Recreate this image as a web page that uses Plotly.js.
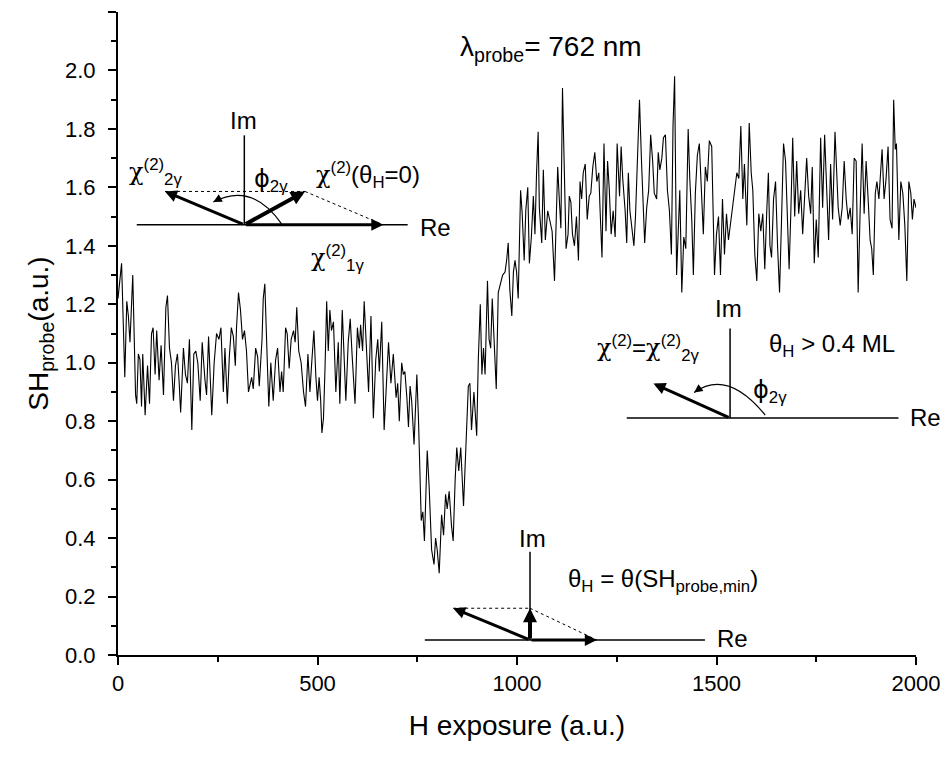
<!DOCTYPE html>
<html>
<head>
<meta charset="utf-8">
<script src="https://cdn.plot.ly/plotly-3.0.1.min.js"></script>
<style>html,body{margin:0;padding:0;background:#fff;}#chart{width:948px;height:759px;}</style>
</head>
<body>
<div id="chart"></div>
<script>
// H exposure (a.u.) values
const exposure = [
0,9,17,22,26,30,37,44,47,51,55,59,62,68,74,79,84,88,93,97,103,108,114,120,124,129,134,139,144,149,153,157,164,169,174,179,185,190,195,200,206,211,218,222,227,235,241,247,253,258,264,268,274,279,284,289,294,297,302,307,312,317,322,327,335,339,345,350,354,361,364,368,374,378,383,389,395,400,406,410,414,420,424,429,434,440,444,448,453,459,465,470,476,481,485,
491,496,500,504,508,511,515,519,523,527,531,535,540,546,552,556,562,567,571,577,582,587,594,600,605,608,613,617,622,628,634,640,646,651,655,661,667,674,678,684,690,697,701,705,711,715,719,724,728,732,736,742,749,753,760,764,768,775,780,786,792,796,800,805,811,816,821,825,830,836,840,845,849,854,859,866,872,878,882,886,892,899,903,908,912,916,920,926,930,934,938,943,948,953,
964,970,974,978,982,987,991,995,999,1003,1009,1013,1018,1022,1027,1031,1036,1041,1045,1049,1053,1056,1062,1066,1071,1077,1083,1088,1094,1098,1102,1106,1110,1114,1119,1123,1128,1131,1135,1139,1144,1149,1154,1158,1162,1166,1171,1176,1181,1185,1190,1195,1200,1205,1208,1213,1218,1223,1227,1231,1236,1241,1246,1251,1257,1261,1265,1271,1275,1279,1283,1288,1293,1297,1302,1307,1312,1317,1320,1325,1330,1335,1340,1344,1350,1354,1358,1363,1367,1372,1377,1382,1387,1391,1395,1400,1404,1408,1413,1418,1423,1429,1433,1438,1442,1447,1452,1457,
1467,1472,1477,1482,1488,1492,1495,1500,1505,1510,1515,1520,1525,1530,1536,1541,1546,1551,1556,1561,1566,1570,1576,1582,1587,1591,1596,1601,1606,1611,1616,1621,1626,1630,1634,1638,1643,1648,1653,1658,1663,1668,1673,1678,1682,1686,1691,1696,1701,1706,1711,1716,1721,1726,1731,1736,1740,1745,1750,1755,1761,1766,1771,1776,1781,1786,1791,1797,1801,1805,1810,1815,1820,1825,1830,1835,1840,1845,1850,1855,1860,1865,1870,1875,1880,1885,1889,1893,1898,1902,1907,1911,1915,1920,1925,1930,1935,1940,1944,1948,1951,1957,1962,1967,1972,1977,1982,1987,1991,1995,2000
];
// SH_probe (a.u.) values
const shProbe = [
1.22,1.34,0.95,1.21,1.16,1.07,1.30,0.89,0.86,1.03,1.01,0.85,1.03,0.82,0.99,0.86,1.10,1.12,0.96,1.11,0.94,1.06,0.89,1.19,1.23,1.05,1.00,0.87,0.99,1.03,0.94,0.83,1.05,0.96,0.93,1.08,0.77,1.03,1.04,1.00,0.87,1.07,0.94,0.89,1.09,0.82,1.00,1.10,1.08,1.12,0.90,1.05,0.86,1.02,1.12,1.09,0.99,1.12,1.24,1.18,1.08,1.11,1.04,0.90,0.95,0.91,1.05,1.02,0.92,1.08,1.22,1.27,1.01,0.85,1.00,0.87,1.01,1.05,0.90,0.97,0.90,1.12,1.10,0.98,1.08,1.11,1.07,1.19,1.04,1.00,0.90,0.85,1.03,0.90,0.99,
1.11,0.95,0.87,0.95,0.87,0.76,0.81,0.99,1.21,1.04,1.18,1.11,1.14,0.90,1.07,0.86,1.18,1.01,0.87,1.07,1.15,1.02,0.86,1.12,1.05,1.13,1.04,1.21,1.08,0.90,1.16,0.81,1.01,1.08,0.97,1.14,0.77,0.96,1.07,0.93,1.03,0.88,0.93,0.80,1.00,0.96,0.97,0.88,0.78,0.92,0.87,0.72,0.96,0.81,0.46,0.49,0.39,0.70,0.57,0.36,0.31,0.40,0.36,0.28,0.48,0.41,0.55,0.50,0.56,0.44,0.39,0.60,0.71,0.63,0.71,0.51,0.71,0.92,0.93,0.77,0.90,0.75,1.01,1.20,0.96,1.05,0.96,1.28,1.08,1.05,1.22,1.06,0.91,1.24,
1.30,1.31,1.35,1.41,1.25,1.16,1.31,1.35,1.31,1.22,1.59,1.51,1.35,1.52,1.60,1.34,1.43,1.57,1.44,1.65,1.79,1.53,1.41,1.66,1.42,1.52,1.48,1.45,1.28,1.49,1.67,1.56,1.46,1.94,1.56,1.39,1.44,1.57,1.55,1.44,1.40,1.50,1.35,1.62,1.56,1.65,1.68,1.49,1.57,1.58,1.67,1.72,1.62,1.65,1.53,1.36,1.75,1.45,1.69,1.60,1.44,1.52,1.43,1.75,1.57,1.74,1.63,1.52,1.41,1.65,1.52,1.45,1.40,1.50,1.70,1.90,1.69,1.52,1.41,1.53,1.59,1.78,1.69,1.58,1.56,1.72,1.66,1.70,1.77,1.78,1.59,1.52,1.37,1.81,1.98,1.30,1.42,1.59,1.24,1.43,1.39,1.80,1.63,1.49,1.30,1.58,1.71,1.75,
1.44,1.67,1.62,1.76,1.74,1.54,1.30,1.44,1.50,1.30,1.56,1.37,1.51,1.42,1.49,1.54,1.59,1.65,1.63,1.81,1.56,1.68,1.47,1.82,1.65,1.59,1.37,1.28,1.51,1.45,1.51,1.32,1.52,1.65,1.40,1.36,1.56,1.62,1.40,1.24,1.49,1.75,1.69,1.47,1.32,1.50,1.77,1.50,1.69,1.51,1.59,1.44,1.59,1.70,1.57,1.51,1.67,1.34,1.49,1.36,1.77,1.53,1.78,1.57,1.42,1.68,1.49,1.79,1.66,1.53,1.47,1.53,1.69,1.56,1.49,1.53,1.44,1.70,1.69,1.24,1.52,1.75,1.51,1.69,1.56,1.42,1.39,1.30,1.58,1.62,1.56,1.63,1.73,1.56,1.63,1.74,1.49,1.46,1.90,1.73,1.75,1.42,1.62,1.58,1.47,1.28,1.62,1.58,1.49,1.56,1.53
];
const xTickVals = [0, 500, 1000, 1500, 2000];
const yTickVals = [0.0, 0.2, 0.4, 0.6, 0.8, 1.0, 1.2, 1.4, 1.6, 1.8, 2.0, 2.2];

const FONT = 'Liberation Sans, Arial, Helvetica, sans-serif';
const K = '#000';
const CHI = '<span style="font-family:DejaVu Serif">χ</span>';
const PHI = '<span style="font-family:DejaVu Sans">ϕ</span>';

function seg(x0, y0, x1, y1, w, dash) {
  return {type: 'line', xref: 'x', yref: 'y', x0: x0, y0: y0, x1: x1, y1: y1,
          line: {color: K, width: w, dash: dash || 'solid'}};
}
function arc(p) {
  return {type: 'path', xref: 'x', yref: 'y', path: p, line: {color: K, width: 1.2}};
}
function arrow(tx, ty, hx, hy, w, size) {
  return {x: hx, y: hy, ax: tx, ay: ty, xref: 'x', yref: 'y', axref: 'x', ayref: 'y',
          text: '', showarrow: true, arrowhead: 2, arrowwidth: w, arrowsize: size || 1,
          arrowcolor: K, standoff: 0, startstandoff: 0};
}
function label(x, y, t, anchor, size) {
  return {x: x, y: y, xref: 'x', yref: 'y', text: t, showarrow: false,
          xanchor: anchor || 'left', yanchor: 'middle',
          font: {family: FONT, size: size || 24, color: K}};
}

const shapes = [
  // top-left diagram
  seg(47, 1.472, 726, 1.472, 1.5),
  seg(316.6, 1.472, 316.6, 1.778, 1.5),
  seg(117.8, 1.586, 468.7, 1.586, 1, 'dot'),
  seg(468.7, 1.586, 665, 1.472, 1, 'dot'),
  arc('M 410,1.475 Q 335.5,1.62 239,1.55'),
  // right diagram
  seg(1275, 0.811, 1956, 0.811, 1.5),
  seg(1534, 0.811, 1534, 1.117, 1.5),
  arc('M 1622,0.821 Q 1527,0.98 1444,0.898'),
  // bottom diagram
  seg(769, 0.0513, 1471, 0.0513, 1.5),
  seg(1032.6, 0.0513, 1032.6, 0.353, 1.5),
  seg(840, 0.16, 1032.6, 0.16, 1, 'dot'),
  seg(1032.6, 0.16, 1200, 0.0513, 1, 'dot')
];

const annotations = [
  // title
  label(853, 2.075, 'λ<sub>probe</sub>= 762 nm', 'left', 28),
  // top-left diagram
  arrow(316.6, 1.472, 665, 1.472, 3, 0.8),
  arrow(316.6, 1.472, 468.7, 1.586, 4, 0.7),
  arrow(316.6, 1.472, 117.8, 1.586, 3, 0.8),
  arrow(261, 1.566, 239, 1.55, 1.2, 1.4),
  label(314, 1.829, 'Im', 'center'),
  label(752, 1.464, 'Re', 'left'),
  label(22, 1.651, CHI + '<sup>(2)</sup><sub>2γ</sub>', 'left'),
  label(336, 1.624, PHI + '<sub>2γ</sub>', 'left'),
  label(492, 1.641, CHI + '<sup>(2)</sup>(θ<sub>H</sub>=0)', 'left'),
  label(479, 1.357, CHI + '<sup>(2)</sup><sub>1γ</sub>', 'left'),
  // right diagram
  arrow(1534, 0.811, 1342, 0.929, 3, 0.8),
  arrow(1464, 0.918, 1444, 0.898, 1.2, 1.4),
  label(1531, 1.186, 'Im', 'center'),
  label(1980, 0.814, 'Re', 'left'),
  label(1586, 0.903, PHI + '<sub>2γ</sub>', 'left'),
  label(1627, 1.06, 'θ<sub>H</sub> > 0.4 ML', 'left'),
  label(1462, 1.05, CHI + '<sup>(2)</sup>=' + CHI + '<sup>(2)</sup><sub>2γ</sub>', 'right'),
  // bottom diagram
  arrow(1032.6, 0.0513, 840, 0.16, 3, 0.8),
  arrow(1032.6, 0.0513, 1032.6, 0.16, 4, 0.7),
  arrow(1032.6, 0.0513, 1200, 0.0513, 3, 0.8),
  label(1039, 0.399, 'Im', 'center'),
  label(1496, 0.058, 'Re', 'left'),
  label(1122, 0.256, 'θ<sub>H</sub> = θ(SH<sub>probe,min</sub>)', 'left')
];

const trace = {
  x: exposure, y: shProbe, type: 'scatter', mode: 'lines',
  line: {color: K, width: 1.1}, hoverinfo: 'skip'
};

const layout = {
  width: 948, height: 759,
  margin: {l: 118, r: 32, t: 12, b: 104},
  paper_bgcolor: '#fff', plot_bgcolor: '#fff',
  showlegend: false,
  font: {family: FONT, size: 22, color: K},
  xaxis: {
    range: [0, 2000], tickvals: xTickVals, ticktext: xTickVals.map(String),
    showgrid: false, zeroline: false, showline: true, linecolor: K, linewidth: 2,
    ticks: 'outside', ticklen: 8, tickwidth: 2, tickcolor: K,
    minor: {ticks: 'outside', dtick: 250, tick0: 0, ticklen: 5, tickwidth: 2, tickcolor: K, showgrid: false},
    tickfont: {family: FONT, size: 22, color: K},
    title: {text: 'H exposure (a.u.)', font: {family: FONT, size: 28, color: K}, standoff: 20}
  },
  yaxis: {
    range: [0, 2.2], tickvals: yTickVals, ticktext: yTickVals.map(v => v.toFixed(1)),
    showgrid: false, zeroline: false, showline: true, linecolor: K, linewidth: 2,
    ticks: 'outside', ticklen: 8, tickwidth: 2, tickcolor: K,
    minor: {ticks: 'outside', dtick: 0.1, tick0: 0, ticklen: 5, tickwidth: 2, tickcolor: K, showgrid: false},
    tickfont: {family: FONT, size: 22, color: K},
    ticklabelstandoff: 8,
    title: {text: 'SH<sub>probe</sub>(a.u.)', font: {family: FONT, size: 28, color: K}, standoff: 8}
  },
  shapes: shapes,
  annotations: annotations
};

Plotly.newPlot('chart', [trace], layout, {displayModeBar: false, staticPlot: true});
</script>
</body>
</html>
